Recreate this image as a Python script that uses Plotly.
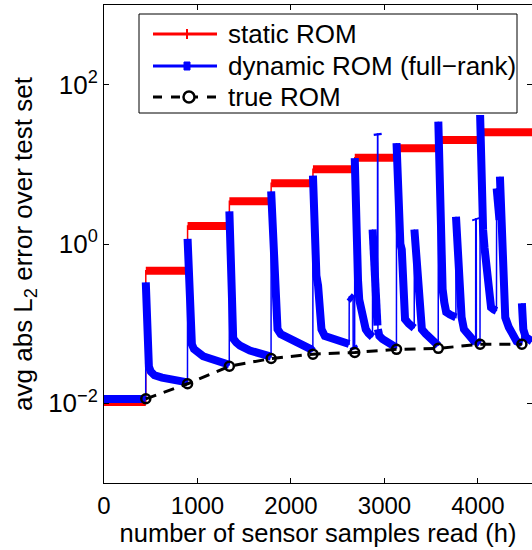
import numpy as np
import plotly.graph_objects as go

# ---------------- data ----------------
step_x = [0, 447, 894, 1341, 1788, 2235, 2682, 3129, 3576, 4023]
x_end = 4578
static_err = [0.0104, 0.46, 1.68, 3.43, 5.8, 8.7, 12.1, 15.9, 20.2, 25.3]

true_x = [447, 894, 1341, 1788, 2235, 2682, 3129, 3576, 4023, 4470]
true_err = [0.0114, 0.0176, 0.0292, 0.0365, 0.0414, 0.0435, 0.0476, 0.049, 0.0551, 0.0551]

blue_x = [
    0, 446,
    447, 451, 455, 460, 465, 471, 480, 500, 540, 620, 720, 820, 893,
    894, 899, 904, 909, 914, 920, 928, 940, 962, 1000, 1060, 1150, 1250, 1340,
    1341, 1346, 1351, 1357, 1363, 1370, 1382, 1415, 1455, 1560, 1705, 1787,
    1788, 1798, 1807, 1815, 1826, 1838, 1848, 1856, 1890, 1931, 2000, 2053, 2070, 2141, 2211, 2234,
    2235, 2243, 2250, 2258, 2272, 2290, 2308, 2326, 2362, 2455, 2560, 2622,
    2623, 2640, 2664, 2665, 2681,
    2682, 2687, 2693, 2700, 2708, 2717, 2730, 2746, 2764, 2782, 2800, 2828, 2857, 2872,
    2873, 2880, 2888, 2895, 2905, 2915, 2925,
    2926, 2929, 2930, 2945, 2980, 3050, 3100, 3128,
    3129, 3134, 3140, 3147, 3156, 3170, 3185, 3195, 3203, 3211, 3220, 3260, 3300, 3318,
    3320, 3330, 3340, 3350, 3360, 3370, 3380, 3390, 3400, 3440, 3500, 3575,
    3576, 3581, 3586, 3592, 3599, 3607, 3615, 3622, 3640, 3660, 3700, 3764,
    3765, 3775, 3783, 3792, 3800, 3810, 3825, 3850, 3900, 3960, 3975,
    3976, 3982, 3983, 4022,
    4023, 4027, 4032, 4038, 4045, 4055, 4070, 4088, 4106, 4122, 4140, 4170, 4198,
    4200, 4210, 4220, 4230,
    4235, 4242, 4250, 4258, 4266, 4275, 4283, 4292, 4330, 4380, 4414, 4469,
    4470, 4476, 4485, 4510, 4578,
]
blue_y = [
    0.0113, 0.0113,
    0.33, 0.20, 0.12, 0.075, 0.05, 0.036, 0.029, 0.025, 0.0225, 0.021, 0.0198, 0.019, 0.0183,
    1.16, 0.65, 0.38, 0.22, 0.14, 0.095, 0.068, 0.055, 0.048, 0.043, 0.039, 0.036, 0.033, 0.0305,
    2.57, 1.4, 0.75, 0.4, 0.22, 0.13, 0.065, 0.058, 0.053, 0.046, 0.0415, 0.0385,
    4.57, 2.0, 1.2, 0.85, 0.45, 0.27, 0.13, 0.085, 0.074, 0.07, 0.067, 0.062, 0.058, 0.053, 0.048, 0.045,
    7.2, 3.0, 1.4, 0.6, 0.4, 0.3, 0.15, 0.085, 0.07, 0.064, 0.058, 0.0555,
    0.22, 0.21, 0.2, 0.052, 0.048,
    12.0, 5.5, 2.5, 1.2, 0.6, 0.35, 0.2, 0.16, 0.126, 0.1, 0.085, 0.076, 0.07, 0.068,
    1.52, 0.9, 0.5, 0.3, 0.18, 0.12, 0.095,
    24.5, 23.0, 0.085, 0.07, 0.064, 0.058, 0.052, 0.05,
    18.5, 9.0, 4.5, 2.5, 1.5, 1.0, 0.85, 0.5, 0.27, 0.17, 0.114, 0.1, 0.09, 0.088,
    1.52, 1.1, 0.7, 0.45, 0.28, 0.18, 0.13, 0.1, 0.085, 0.075, 0.065, 0.053,
    34.3, 15.0, 6.5, 3.0, 1.4, 0.7, 0.4, 0.27, 0.184, 0.14, 0.13, 0.12,
    2.2, 1.4, 0.85, 0.5, 0.3, 0.18, 0.12, 0.085, 0.07, 0.06, 0.058,
    2.1, 2.0, 0.06, 0.056,
    41.6, 18.0, 8.0, 4.2, 2.5, 1.5, 0.9, 0.5, 0.3, 0.2, 0.16, 0.15, 0.145,
    5.0, 3.5, 2.5, 2.0,
    7.0, 4.0, 2.2, 1.2, 0.6, 0.3, 0.18, 0.12, 0.09, 0.068, 0.06, 0.056,
    0.18, 0.12, 0.085, 0.068, 0.06,
]

x_ticks = [0, 1000, 2000, 3000, 4000]
y_ticks = [1e-2, 1e0, 1e2]
y_tick_text = ["10<sup>\u22122</sup>", "10<sup>0</sup>", "10<sup>2</sup>"]
legend_labels = ["static ROM", "dynamic ROM (full\u2212rank)", "true ROM"]

# ---------------- drawing ----------------
RED, BLUE = "#ff0000", "#0000ff"
FONT = "Liberation Sans, Arial, Helvetica, sans-serif"
W, H = 532, 550
ML, MR, MT, MB = 104, 0, 5, 67
PW, PH = W - ML - MR, H - MT - MB


def px(xp):  # pixel -> paper x (legend decoration only)
    return (xp - ML) / PW


def py(yp):  # pixel -> paper y
    return (H - MB - yp) / PH


# thick horizontal bands of static ROM (dense markers in original)
red_thick_x, red_thick_y = [], []
ends = step_x[1:] + [x_end]
for x0, x1, v in zip(step_x, ends, static_err):
    red_thick_x += [x0, x1, None]
    red_thick_y += [v, v, None]

# thick parts of dynamic ROM: break wherever the curve jumps (single sample)
bt_x, bt_y = [blue_x[0]], [blue_y[0]]
for i in range(1, len(blue_x)):
    if abs(np.log10(blue_y[i] / blue_y[i - 1])) >= 0.5:
        bt_x.append(None)
        bt_y.append(None)
    bt_x.append(blue_x[i])
    bt_y.append(blue_y[i])

fig = go.Figure()
fig.add_trace(go.Scatter(x=step_x + [x_end], y=static_err + [static_err[-1]], mode="lines",
                         line=dict(color=RED, width=1.5, shape="hv"), showlegend=False))
fig.add_trace(go.Scatter(x=red_thick_x, y=red_thick_y, mode="lines",
                         line=dict(color=RED, width=8), showlegend=False))
fig.add_trace(go.Scatter(x=blue_x, y=blue_y, mode="lines",
                         line=dict(color=BLUE, width=1.5), showlegend=False))
fig.add_trace(go.Scatter(x=bt_x, y=bt_y, mode="lines",
                         line=dict(color=BLUE, width=8), showlegend=False))
fig.add_trace(go.Scatter(x=true_x, y=true_err, mode="lines+markers",
                         line=dict(color="black", width=3, dash="11px,8px"),
                         marker=dict(symbol="circle-open", size=9, color="black", line=dict(width=2.5)),
                         showlegend=False))

# ---- legend box drawn as decoration (matches original MATLAB legend geometry)
shapes = [dict(type="rect", xref="paper", yref="paper", x0=px(139), x1=px(517), y0=py(113), y1=py(14),
               line=dict(color="black", width=1), fillcolor="white", layer="above")]
rows = [34, 66, 97]
colors = [RED, BLUE, "black"]
for r, c in zip(rows, colors):
    shapes.append(dict(type="line", xref="paper", yref="paper", x0=px(153), x1=px(217), y0=py(r), y1=py(r),
                       line=dict(color=c, width=3, dash="solid" if c != "black" else "9px,9px"),
                       layer="above"))
shapes.append(dict(type="line", xref="paper", yref="paper", x0=px(187), x1=px(187), y0=py(rows[0] + 5),
                   y1=py(rows[0] - 5), line=dict(color=RED, width=2), layer="above"))
shapes.append(dict(type="rect", xref="paper", yref="paper", x0=px(184), x1=px(190), y0=py(rows[1] + 4),
                   y1=py(rows[1] - 4), line=dict(color=BLUE, width=1), fillcolor=BLUE, layer="above"))
shapes.append(dict(type="circle", xref="paper", yref="paper", x0=px(183.5), x1=px(194.5),
                   y0=py(rows[2] + 5.5), y1=py(rows[2] - 5.5),
                   line=dict(color="black", width=2.5), fillcolor="white", layer="above"))

annotations = [dict(text=t, xref="paper", yref="paper", x=px(226), y=py(r), xanchor="left", yanchor="middle",
                    showarrow=False, font=dict(family=FONT, size=26, color="black"))
               for t, r in zip(legend_labels, rows)]

axis_common = dict(showline=True, linecolor="black", linewidth=1, mirror="ticks",
                   ticks="inside", ticklen=5, tickcolor="black", showgrid=False, zeroline=False)

fig.update_layout(
    width=W, height=H,
    margin=dict(l=ML, r=MR, t=MT, b=MB),
    paper_bgcolor="white", plot_bgcolor="white",
    font=dict(family=FONT, size=24, color="black"),
    showlegend=False,
    xaxis=dict(range=[0, x_end], tickvals=x_ticks, ticklabelstandoff=1,
               tickfont=dict(family=FONT, size=24, color="black"),
               title=dict(text="number of sensor samples read (h)", standoff=0,
                          font=dict(family=FONT, size=25.5)),
               **axis_common),
    yaxis=dict(type="log", range=[-3, 3], tickvals=y_ticks, ticktext=y_tick_text,
               tickfont=dict(family=FONT, size=26, color="black"),
               title=dict(text="avg abs L<sub>2</sub> error over test set", standoff=8,
                          font=dict(family=FONT, size=26)),
               **axis_common),
    shapes=shapes,
    annotations=annotations,
)

fig.write_html("out.html", config={"displayModeBar": False},
               post_script="document.body.style.margin='0';document.body.style.overflow='hidden';")
